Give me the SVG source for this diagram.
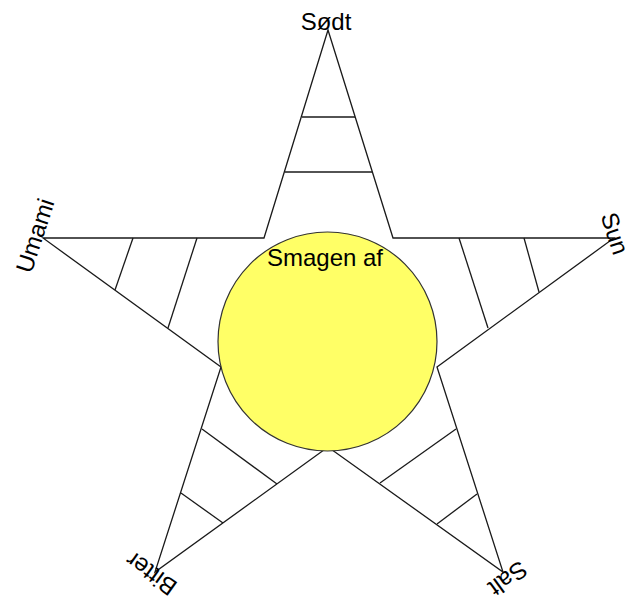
<svg xmlns="http://www.w3.org/2000/svg" width="633" height="601" viewBox="0 0 633 601">
<style>
.edge{fill:none;stroke:#1a1a1a;stroke-width:1.3;stroke-linejoin:miter}
.lbl{font-family:"Liberation Sans",Arial,sans-serif;font-size:24px;fill:#000;text-anchor:middle}
</style>
<rect width="633" height="601" fill="#fff"/>
<g id="star">
<polygon class="edge" points="328,30 393,238 614,238 437,367 503,572 328,447 155,572 221,367 43,238 264,238"/>
</g>
<g id="connectors">
<line class="edge" x1="302" y1="117" x2="355" y2="117"/>
<line class="edge" x1="285" y1="172" x2="372" y2="172"/>
<line class="edge" x1="133" y1="238" x2="115" y2="290"/>
<line class="edge" x1="197" y1="238" x2="168" y2="328"/>
<line class="edge" x1="459" y1="238" x2="488" y2="328"/>
<line class="edge" x1="524" y1="238" x2="539" y2="292"/>
<line class="edge" x1="202" y1="429" x2="277" y2="484"/>
<line class="edge" x1="181" y1="493" x2="223" y2="523"/>
<line class="edge" x1="456" y1="429" x2="380" y2="483"/>
<line class="edge" x1="477" y1="494" x2="437" y2="524"/>
</g>
<g id="center">
<circle cx="327.5" cy="341.5" r="109.5" fill="#ffff66" stroke="#333" stroke-width="1.2"/>
<text class="lbl" x="325" y="266">Smagen af</text>
</g>
<g id="sodt"><text class="lbl" x="326" y="30">Sødt</text></g>
<g id="umami"><text class="lbl" x="43" y="238" transform="rotate(-72 43 238)">Umami</text></g>
<g id="sun"><text class="lbl" x="607" y="236" font-size="21" transform="rotate(72 607 236)">Sun</text></g>
<g id="salt"><text class="lbl" x="503" y="572" transform="rotate(144 503 572)">Salt</text></g>
<g id="bitter"><text class="lbl" x="156" y="567" transform="rotate(-144 156 567)">Bitter</text></g>
</svg>
